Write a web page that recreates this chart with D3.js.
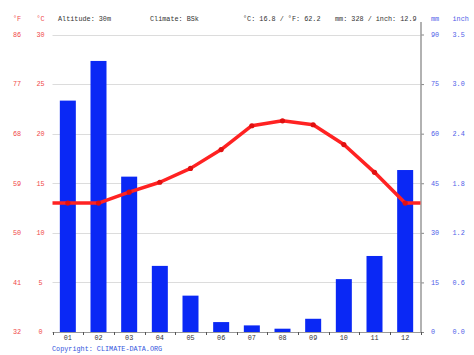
<!DOCTYPE html>
<html><head><meta charset="utf-8">
<script src="https://cdn.jsdelivr.net/npm/d3@7"></script>
<style>
html,body{margin:0;padding:0;background:#fff;}
svg{display:block;}
text{font-family:"Liberation Mono","DejaVu Sans Mono",monospace;font-size:6.8px;}
</style></head>
<body>
<svg id="c" width="474" height="355"></svg>
<script>
const months = ["01","02","03","04","05","06","07","08","09","10","11","12"];
const precipMm = [70, 82, 47, 20, 11, 3, 2, 1, 4, 16, 23, 49];
const tempC = [13.0, 13.0, 14.1, 15.1, 16.5, 18.4, 20.8, 21.3, 20.9, 18.9, 16.1, 13.0];
const cTicks = [0, 5, 10, 15, 20, 25, 30];
const fTicks = ["32", "41", "50", "59", "68", "77", "86"];
const mmTicks = [0, 15, 30, 45, 60, 75, 90];
const inchTicks = ["0.0", "0.6", "1.2", "1.8", "2.4", "3.0", "3.5"];
const headerTexts = ["Altitude: 30m", "Climate: BSk", "°C: 16.8 / °F: 62.2", "mm: 328 / inch: 12.9"];

const svg = d3.select("#c");
const L = 52.5, R = 420.5, T = 34.5, B = 332;
const red = "#ff2222", redText = "#f04848", blueText = "#5060e8";

const x = d3.scaleBand().domain(months).range([L, R]);
const yC = d3.scaleLinear().domain([0, 30]).range([B, T]);
const yMm = d3.scaleLinear().domain([0, 90]).range([B, T]);

// gridlines
svg.append("g").selectAll("line").data(cTicks.filter(d => d > 0)).join("line")
  .attr("x1", L).attr("x2", R).attr("y1", d => Math.round(yC(d)) + 0.5).attr("y2", d => Math.round(yC(d)) + 0.5)
  .attr("stroke", "#dcdcdc").attr("stroke-width", 1);

// bars
const bw = 16;
svg.append("g").selectAll("rect").data(precipMm).join("rect")
  .attr("x", (d, i) => x(months[i]) + x.bandwidth() / 2 - bw / 2)
  .attr("width", bw)
  .attr("y", d => yMm(d))
  .attr("height", d => B - yMm(d))
  .attr("fill", "#0a28f5");

// right axis
const rAxis = d3.axisRight(yMm).tickValues(mmTicks).tickSize(3).tickFormat("");
const rg = svg.append("g").attr("transform", `translate(${R + 0.5},0)`).call(rAxis);
rg.select(".domain").remove();
rg.selectAll(".tick line").attr("stroke", "#888");
svg.append("line").attr("x1", R + 0.5).attr("x2", R + 0.5).attr("y1", 22).attr("y2", B + 1)
  .attr("stroke", "#999").attr("stroke-width", 1.5);

// bottom axis
const bAxis = d3.axisBottom(x).tickSize(0).tickPadding(3);
const bg = svg.append("g").attr("transform", `translate(0,${B + 0.5})`).call(bAxis);
bg.select(".domain").remove();
bg.selectAll(".tick text").attr("font-family", "Liberation Mono, monospace").attr("font-size", "6.8px").attr("fill", "#333");
svg.append("line").attr("x1", L).attr("x2", R + 1).attr("y1", B + 0.5).attr("y2", B + 0.5)
  .attr("stroke", "#999").attr("stroke-width", 1);
const bounds = months.map(m => x(m)).concat([R]);
svg.append("g").selectAll("line").data(bounds).join("line")
  .attr("x1", d => Math.round(d) + 0.5).attr("x2", d => Math.round(d) + 0.5)
  .attr("y1", B).attr("y2", B + 3).attr("stroke", "#555");

// temperature line
const pts = tempC.map((d, i) => [x(months[i]) + x.bandwidth() / 2, yC(d)]);
const linePts = [[L, yC(tempC[0])]].concat(pts, [[R, yC(tempC[tempC.length - 1])]]);
svg.append("path").attr("d", d3.line()(linePts)).attr("fill", "none")
  .attr("stroke", red).attr("stroke-width", 3.5).attr("stroke-linejoin", "round");
svg.append("g").selectAll("circle").data(pts).join("circle")
  .attr("cx", d => d[0]).attr("cy", d => d[1]).attr("r", 2.6).attr("fill", "#e01010");

// left labels
svg.append("g").selectAll("text").data(cTicks).join("text")
  .attr("x", 40.5).attr("y", d => yC(d) + 2.4).attr("text-anchor", "middle").attr("fill", redText).text(d => d);
svg.append("g").selectAll("text").data(fTicks).join("text")
  .attr("x", 17).attr("y", (d, i) => yC(cTicks[i]) + 2.4).attr("text-anchor", "middle").attr("fill", redText).text(d => d);
svg.append("text").attr("x", 17).attr("y", 21).attr("text-anchor", "middle").attr("fill", redText).text("°F");
svg.append("text").attr("x", 40.5).attr("y", 21).attr("text-anchor", "middle").attr("fill", redText).text("°C");

// right labels
svg.append("g").selectAll("text").data(mmTicks).join("text")
  .attr("x", 431).attr("y", d => yMm(d) + 2.4).attr("fill", blueText).text(d => d);
svg.append("g").selectAll("text").data(inchTicks).join("text")
  .attr("x", 452.5).attr("y", (d, i) => yMm(mmTicks[i]) + 2.4).attr("fill", blueText).text(d => d);
svg.append("text").attr("x", 431).attr("y", 21).attr("fill", blueText).text("mm");
svg.append("text").attr("x", 452.5).attr("y", 21).attr("fill", blueText).text("inch");

// header
const hx = [58, 150, 243, 335];
svg.append("g").selectAll("text").data(headerTexts).join("text")
  .attr("x", (d, i) => hx[i]).attr("y", 21).attr("fill", "#333").text(d => d);

// copyright
svg.append("text").attr("x", 52).attr("y", 351).attr("fill", "#3355dd").text("Copyright: CLIMATE-DATA.ORG");
</script>
</body></html>
